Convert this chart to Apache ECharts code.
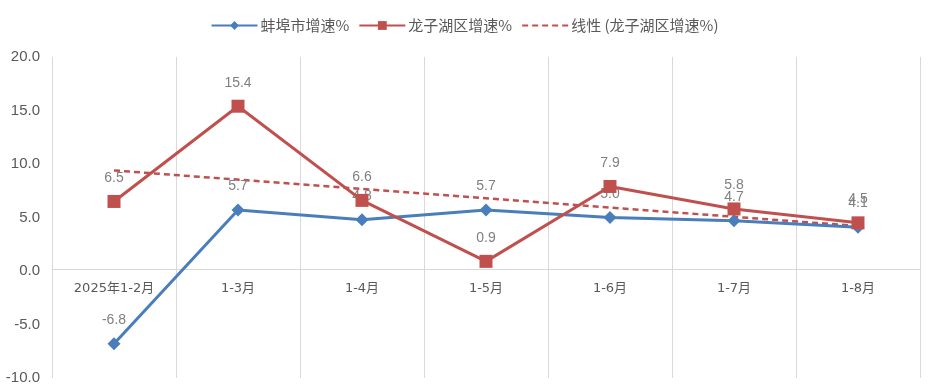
<!DOCTYPE html>
<html><head><meta charset="utf-8">
<script src="https://cdn.jsdelivr.net/npm/echarts@6/dist/echarts.min.js"></script>
<style>html,body{margin:0;padding:0;background:#fff}#c{width:929px;height:392px}</style>
</head><body><div id="c"></div>
<script>
const categories = ['2025年1-2月','1-3月','1-4月','1-5月','1-6月','1-7月','1-8月'];
const bengbu = [-6.8, 5.7, 4.8, 5.7, 5.0, 4.7, 4.1];
const longzihu = [6.5, 15.4, 6.6, 0.9, 7.9, 5.8, 4.5];
const trendEnds = [9.4, null, null, null, null, null, 4.2];
const seriesNames = ['蚌埠市增速%', '龙子湖区增速%', '线性 (龙子湖区增速%)'];
const yTicks = {min: -10, max: 20, interval: 5};

const chart = echarts.init(document.getElementById('c'));
const labelStyle = {show: true, position: 'top', distance: 10, color: '#808080', fontSize: 14, fontFamily: 'Liberation Sans', formatter: p => p.value.toFixed(1)};
chart.setOption({
  animation: false,
  legend: {
    top: 13, left: 'center', itemWidth: 46, itemHeight: 11, itemGap: 9,
    textStyle: {color: '#595959', fontSize: 15, fontFamily: 'Noto Sans CJK SC', padding: [0,0,0,-2]},
    data: [seriesNames[0], seriesNames[1], {name: seriesNames[2], itemStyle: {opacity: 0}}]
  },
  grid: {left: 52, right: 9, top: 57, bottom: 14, containLabel: false, outerBoundsMode: 'none'},
  xAxis: [{
    type: 'category', data: categories, boundaryGap: true,
    axisLine: {show: false}, axisTick: {show: false}, axisLabel: {show: false},
    splitLine: {show: true, lineStyle: {color: '#d9d9d9', width: 1}}
  }, {
    type: 'category', data: categories, boundaryGap: true, position: 'bottom', offset: -109,
    axisLine: {show: true, onZero: false, lineStyle: {color: '#d9d9d9', width: 1}},
    axisTick: {show: false},
    axisLabel: {color: '#595959', fontSize: 13, margin: 13, fontFamily: 'DejaVu Sans, Noto Sans CJK SC'},
    splitLine: {show: false}
  }],
  yAxis: {
    type: 'value', min: yTicks.min, max: yTicks.max, interval: yTicks.interval,
    axisLine: {show: false}, axisTick: {show: false}, splitLine: {show: false},
    axisLabel: {color: '#595959', fontSize: 15, margin: 12, fontFamily: 'Liberation Sans', formatter: v => v.toFixed(1)}
  },
  series: [
    {name: seriesNames[0], type: 'line', data: bengbu, symbol: 'diamond', symbolSize: 13,
     lineStyle: {color: '#4a7ebb', width: 3}, itemStyle: {color: '#4a7ebb'}, label: labelStyle, z: 3},
    {name: seriesNames[1], type: 'line', data: longzihu, symbol: 'rect', symbolSize: 13,
     lineStyle: {color: '#c0504d', width: 3}, itemStyle: {color: '#c0504d'}, label: labelStyle, z: 4},
    {name: seriesNames[2], type: 'line', data: trendEnds, connectNulls: true, symbol: 'none',
     lineStyle: {color: '#c0504d', width: 2.5, type: [6, 4]}, itemStyle: {color: '#c0504d'}, z: 2}
  ]
});
</script></body></html>
